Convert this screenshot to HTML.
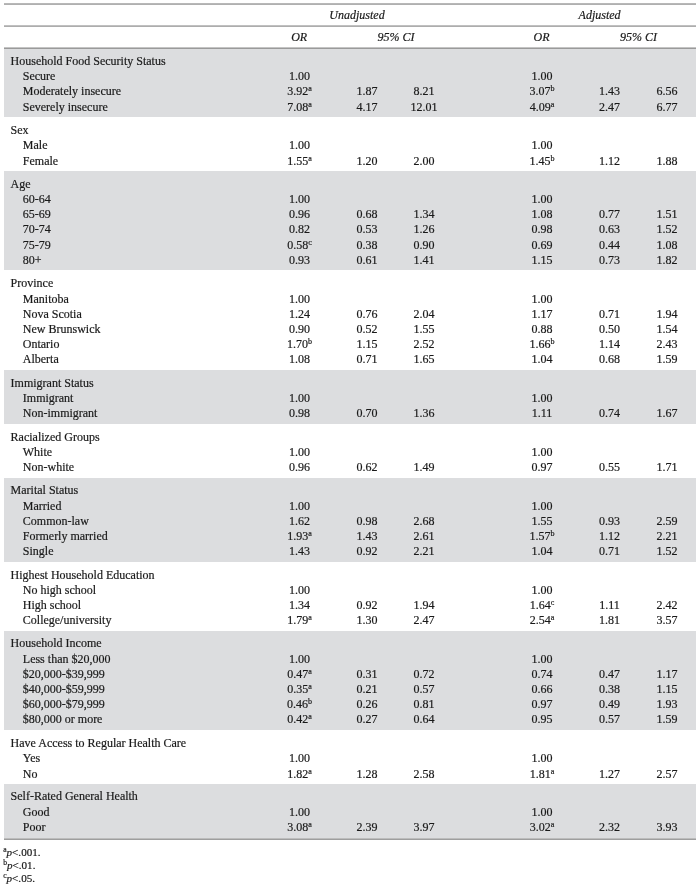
<!DOCTYPE html>
<html><head><meta charset="utf-8"><style>
html,body{margin:0;padding:0;background:#fff;}
body{width:700px;height:889px;position:relative;overflow:hidden;-webkit-text-stroke:0.2px #1a1a1a;font-family:"Liberation Serif",serif;font-size:12.00px;color:#1a1a1a;}
.t{position:absolute;white-space:nowrap;line-height:14px;height:14px;}
.c{width:120px;text-align:center;}
.i{font-style:italic;}
.g{position:absolute;left:4px;width:692px;background:#dcdddf;}
#tx{position:absolute;left:0;top:0;width:700px;height:889px;will-change:transform;}
.l{position:absolute;left:4px;width:692px;height:2px;background:#a8a8a8;}
sup{font-size:8.0px;line-height:0;vertical-align:4.00px;}
.fn{position:absolute;left:3.2px;font-size:11.1px;line-height:12px;height:12px;white-space:nowrap;}
.fn sup{font-size:7.6px;vertical-align:4.4px;}
</style></head><body>

<div class="g" style="top:47.0px;height:70.0px"></div>
<div class="g" style="top:171.0px;height:99.0px"></div>
<div class="g" style="top:370.0px;height:54.0px"></div>
<div class="g" style="top:478.0px;height:84.0px"></div>
<div class="g" style="top:631.0px;height:99.0px"></div>
<div class="g" style="top:784.0px;height:54.0px"></div>
<div class="l" style="top:3px;height:1px;background:#b8b8b8"></div>
<div class="l" style="top:4px;height:1px;background:#b0b0b0"></div>
<div class="l" style="top:25px;height:1px;background:#c0c0c0"></div>
<div class="l" style="top:26px;height:1px;background:#adadad"></div>
<div class="l" style="top:47px;height:1px;background:#c4c4c4"></div>
<div class="l" style="top:48px;height:1px;background:#9a9a9a"></div>
<div class="l" style="top:838px;height:1px;background:#bcbcbc"></div>
<div class="l" style="top:839px;height:1px;background:#9e9e9e"></div>
<div id="tx">
<div class="t c i" style="left:297.00px;top:8.20px">Unadjusted</div>
<div class="t c i" style="left:539.60px;top:8.20px">Adjusted</div>
<div class="t c i" style="left:239.20px;top:30.40px">OR</div>
<div class="t c i" style="left:336.00px;top:30.40px">95% CI</div>
<div class="t c i" style="left:481.60px;top:30.40px">OR</div>
<div class="t c i" style="left:578.60px;top:30.40px">95% CI</div>
<div class="t " style="left:10.60px;top:54.05px">Household Food Security Status</div>
<div class="t " style="left:22.80px;top:69.25px">Secure</div>
<div class="t c " style="left:239.50px;top:69.25px">1.00</div>
<div class="t c " style="left:482.00px;top:69.25px">1.00</div>
<div class="t " style="left:22.80px;top:84.45px">Moderately insecure</div>
<div class="t c " style="left:239.50px;top:84.45px">3.92<sup>a</sup></div>
<div class="t c " style="left:307.00px;top:84.45px">1.87</div>
<div class="t c " style="left:364.00px;top:84.45px">8.21</div>
<div class="t c " style="left:482.00px;top:84.45px">3.07<sup>b</sup></div>
<div class="t c " style="left:549.50px;top:84.45px">1.43</div>
<div class="t c " style="left:607.00px;top:84.45px">6.56</div>
<div class="t " style="left:22.80px;top:99.65px">Severely insecure</div>
<div class="t c " style="left:239.50px;top:99.65px">7.08<sup>a</sup></div>
<div class="t c " style="left:307.00px;top:99.65px">4.17</div>
<div class="t c " style="left:364.00px;top:99.65px">12.01</div>
<div class="t c " style="left:482.00px;top:99.65px">4.09<sup>a</sup></div>
<div class="t c " style="left:549.50px;top:99.65px">2.47</div>
<div class="t c " style="left:607.00px;top:99.65px">6.77</div>
<div class="t " style="left:10.60px;top:123.15px">Sex</div>
<div class="t " style="left:22.80px;top:138.35px">Male</div>
<div class="t c " style="left:239.50px;top:138.35px">1.00</div>
<div class="t c " style="left:482.00px;top:138.35px">1.00</div>
<div class="t " style="left:22.80px;top:153.55px">Female</div>
<div class="t c " style="left:239.50px;top:153.55px">1.55<sup>a</sup></div>
<div class="t c " style="left:307.00px;top:153.55px">1.20</div>
<div class="t c " style="left:364.00px;top:153.55px">2.00</div>
<div class="t c " style="left:482.00px;top:153.55px">1.45<sup>b</sup></div>
<div class="t c " style="left:549.50px;top:153.55px">1.12</div>
<div class="t c " style="left:607.00px;top:153.55px">1.88</div>
<div class="t " style="left:10.60px;top:176.81px">Age</div>
<div class="t " style="left:22.80px;top:192.01px">60-64</div>
<div class="t c " style="left:239.50px;top:192.01px">1.00</div>
<div class="t c " style="left:482.00px;top:192.01px">1.00</div>
<div class="t " style="left:22.80px;top:207.21px">65-69</div>
<div class="t c " style="left:239.50px;top:207.21px">0.96</div>
<div class="t c " style="left:307.00px;top:207.21px">0.68</div>
<div class="t c " style="left:364.00px;top:207.21px">1.34</div>
<div class="t c " style="left:482.00px;top:207.21px">1.08</div>
<div class="t c " style="left:549.50px;top:207.21px">0.77</div>
<div class="t c " style="left:607.00px;top:207.21px">1.51</div>
<div class="t " style="left:22.80px;top:222.41px">70-74</div>
<div class="t c " style="left:239.50px;top:222.41px">0.82</div>
<div class="t c " style="left:307.00px;top:222.41px">0.53</div>
<div class="t c " style="left:364.00px;top:222.41px">1.26</div>
<div class="t c " style="left:482.00px;top:222.41px">0.98</div>
<div class="t c " style="left:549.50px;top:222.41px">0.63</div>
<div class="t c " style="left:607.00px;top:222.41px">1.52</div>
<div class="t " style="left:22.80px;top:237.61px">75-79</div>
<div class="t c " style="left:239.50px;top:237.61px">0.58<sup>c</sup></div>
<div class="t c " style="left:307.00px;top:237.61px">0.38</div>
<div class="t c " style="left:364.00px;top:237.61px">0.90</div>
<div class="t c " style="left:482.00px;top:237.61px">0.69</div>
<div class="t c " style="left:549.50px;top:237.61px">0.44</div>
<div class="t c " style="left:607.00px;top:237.61px">1.08</div>
<div class="t " style="left:22.80px;top:252.81px">80+</div>
<div class="t c " style="left:239.50px;top:252.81px">0.93</div>
<div class="t c " style="left:307.00px;top:252.81px">0.61</div>
<div class="t c " style="left:364.00px;top:252.81px">1.41</div>
<div class="t c " style="left:482.00px;top:252.81px">1.15</div>
<div class="t c " style="left:549.50px;top:252.81px">0.73</div>
<div class="t c " style="left:607.00px;top:252.81px">1.82</div>
<div class="t " style="left:10.60px;top:276.31px">Province</div>
<div class="t " style="left:22.80px;top:291.51px">Manitoba</div>
<div class="t c " style="left:239.50px;top:291.51px">1.00</div>
<div class="t c " style="left:482.00px;top:291.51px">1.00</div>
<div class="t " style="left:22.80px;top:306.71px">Nova Scotia</div>
<div class="t c " style="left:239.50px;top:306.71px">1.24</div>
<div class="t c " style="left:307.00px;top:306.71px">0.76</div>
<div class="t c " style="left:364.00px;top:306.71px">2.04</div>
<div class="t c " style="left:482.00px;top:306.71px">1.17</div>
<div class="t c " style="left:549.50px;top:306.71px">0.71</div>
<div class="t c " style="left:607.00px;top:306.71px">1.94</div>
<div class="t " style="left:22.80px;top:321.91px">New Brunswick</div>
<div class="t c " style="left:239.50px;top:321.91px">0.90</div>
<div class="t c " style="left:307.00px;top:321.91px">0.52</div>
<div class="t c " style="left:364.00px;top:321.91px">1.55</div>
<div class="t c " style="left:482.00px;top:321.91px">0.88</div>
<div class="t c " style="left:549.50px;top:321.91px">0.50</div>
<div class="t c " style="left:607.00px;top:321.91px">1.54</div>
<div class="t " style="left:22.80px;top:337.11px">Ontario</div>
<div class="t c " style="left:239.50px;top:337.11px">1.70<sup>b</sup></div>
<div class="t c " style="left:307.00px;top:337.11px">1.15</div>
<div class="t c " style="left:364.00px;top:337.11px">2.52</div>
<div class="t c " style="left:482.00px;top:337.11px">1.66<sup>b</sup></div>
<div class="t c " style="left:549.50px;top:337.11px">1.14</div>
<div class="t c " style="left:607.00px;top:337.11px">2.43</div>
<div class="t " style="left:22.80px;top:352.31px">Alberta</div>
<div class="t c " style="left:239.50px;top:352.31px">1.08</div>
<div class="t c " style="left:307.00px;top:352.31px">0.71</div>
<div class="t c " style="left:364.00px;top:352.31px">1.65</div>
<div class="t c " style="left:482.00px;top:352.31px">1.04</div>
<div class="t c " style="left:549.50px;top:352.31px">0.68</div>
<div class="t c " style="left:607.00px;top:352.31px">1.59</div>
<div class="t " style="left:10.60px;top:375.52px">Immigrant Status</div>
<div class="t " style="left:22.80px;top:390.72px">Immigrant</div>
<div class="t c " style="left:239.50px;top:390.72px">1.00</div>
<div class="t c " style="left:482.00px;top:390.72px">1.00</div>
<div class="t " style="left:22.80px;top:405.92px">Non-immigrant</div>
<div class="t c " style="left:239.50px;top:405.92px">0.98</div>
<div class="t c " style="left:307.00px;top:405.92px">0.70</div>
<div class="t c " style="left:364.00px;top:405.92px">1.36</div>
<div class="t c " style="left:482.00px;top:405.92px">1.11</div>
<div class="t c " style="left:549.50px;top:405.92px">0.74</div>
<div class="t c " style="left:607.00px;top:405.92px">1.67</div>
<div class="t " style="left:10.60px;top:429.58px">Racialized Groups</div>
<div class="t " style="left:22.80px;top:444.78px">White</div>
<div class="t c " style="left:239.50px;top:444.78px">1.00</div>
<div class="t c " style="left:482.00px;top:444.78px">1.00</div>
<div class="t " style="left:22.80px;top:459.98px">Non-white</div>
<div class="t c " style="left:239.50px;top:459.98px">0.96</div>
<div class="t c " style="left:307.00px;top:459.98px">0.62</div>
<div class="t c " style="left:364.00px;top:459.98px">1.49</div>
<div class="t c " style="left:482.00px;top:459.98px">0.97</div>
<div class="t c " style="left:549.50px;top:459.98px">0.55</div>
<div class="t c " style="left:607.00px;top:459.98px">1.71</div>
<div class="t " style="left:10.60px;top:483.30px">Marital Status</div>
<div class="t " style="left:22.80px;top:498.50px">Married</div>
<div class="t c " style="left:239.50px;top:498.50px">1.00</div>
<div class="t c " style="left:482.00px;top:498.50px">1.00</div>
<div class="t " style="left:22.80px;top:513.70px">Common-law</div>
<div class="t c " style="left:239.50px;top:513.70px">1.62</div>
<div class="t c " style="left:307.00px;top:513.70px">0.98</div>
<div class="t c " style="left:364.00px;top:513.70px">2.68</div>
<div class="t c " style="left:482.00px;top:513.70px">1.55</div>
<div class="t c " style="left:549.50px;top:513.70px">0.93</div>
<div class="t c " style="left:607.00px;top:513.70px">2.59</div>
<div class="t " style="left:22.80px;top:528.90px">Formerly married</div>
<div class="t c " style="left:239.50px;top:528.90px">1.93<sup>a</sup></div>
<div class="t c " style="left:307.00px;top:528.90px">1.43</div>
<div class="t c " style="left:364.00px;top:528.90px">2.61</div>
<div class="t c " style="left:482.00px;top:528.90px">1.57<sup>b</sup></div>
<div class="t c " style="left:549.50px;top:528.90px">1.12</div>
<div class="t c " style="left:607.00px;top:528.90px">2.21</div>
<div class="t " style="left:22.80px;top:544.10px">Single</div>
<div class="t c " style="left:239.50px;top:544.10px">1.43</div>
<div class="t c " style="left:307.00px;top:544.10px">0.92</div>
<div class="t c " style="left:364.00px;top:544.10px">2.21</div>
<div class="t c " style="left:482.00px;top:544.10px">1.04</div>
<div class="t c " style="left:549.50px;top:544.10px">0.71</div>
<div class="t c " style="left:607.00px;top:544.10px">1.52</div>
<div class="t " style="left:10.60px;top:567.52px">Highest Household Education</div>
<div class="t " style="left:22.80px;top:582.72px">No high school</div>
<div class="t c " style="left:239.50px;top:582.72px">1.00</div>
<div class="t c " style="left:482.00px;top:582.72px">1.00</div>
<div class="t " style="left:22.80px;top:597.92px">High school</div>
<div class="t c " style="left:239.50px;top:597.92px">1.34</div>
<div class="t c " style="left:307.00px;top:597.92px">0.92</div>
<div class="t c " style="left:364.00px;top:597.92px">1.94</div>
<div class="t c " style="left:482.00px;top:597.92px">1.64<sup>c</sup></div>
<div class="t c " style="left:549.50px;top:597.92px">1.11</div>
<div class="t c " style="left:607.00px;top:597.92px">2.42</div>
<div class="t " style="left:22.80px;top:613.12px">College/university</div>
<div class="t c " style="left:239.50px;top:613.12px">1.79<sup>a</sup></div>
<div class="t c " style="left:307.00px;top:613.12px">1.30</div>
<div class="t c " style="left:364.00px;top:613.12px">2.47</div>
<div class="t c " style="left:482.00px;top:613.12px">2.54<sup>a</sup></div>
<div class="t c " style="left:549.50px;top:613.12px">1.81</div>
<div class="t c " style="left:607.00px;top:613.12px">3.57</div>
<div class="t " style="left:10.60px;top:636.49px">Household Income</div>
<div class="t " style="left:22.80px;top:651.69px">Less than $20,000</div>
<div class="t c " style="left:239.50px;top:651.69px">1.00</div>
<div class="t c " style="left:482.00px;top:651.69px">1.00</div>
<div class="t " style="left:22.80px;top:666.89px">$20,000-$39,999</div>
<div class="t c " style="left:239.50px;top:666.89px">0.47<sup>a</sup></div>
<div class="t c " style="left:307.00px;top:666.89px">0.31</div>
<div class="t c " style="left:364.00px;top:666.89px">0.72</div>
<div class="t c " style="left:482.00px;top:666.89px">0.74</div>
<div class="t c " style="left:549.50px;top:666.89px">0.47</div>
<div class="t c " style="left:607.00px;top:666.89px">1.17</div>
<div class="t " style="left:22.80px;top:682.09px">$40,000-$59,999</div>
<div class="t c " style="left:239.50px;top:682.09px">0.35<sup>a</sup></div>
<div class="t c " style="left:307.00px;top:682.09px">0.21</div>
<div class="t c " style="left:364.00px;top:682.09px">0.57</div>
<div class="t c " style="left:482.00px;top:682.09px">0.66</div>
<div class="t c " style="left:549.50px;top:682.09px">0.38</div>
<div class="t c " style="left:607.00px;top:682.09px">1.15</div>
<div class="t " style="left:22.80px;top:697.29px">$60,000-$79,999</div>
<div class="t c " style="left:239.50px;top:697.29px">0.46<sup>b</sup></div>
<div class="t c " style="left:307.00px;top:697.29px">0.26</div>
<div class="t c " style="left:364.00px;top:697.29px">0.81</div>
<div class="t c " style="left:482.00px;top:697.29px">0.97</div>
<div class="t c " style="left:549.50px;top:697.29px">0.49</div>
<div class="t c " style="left:607.00px;top:697.29px">1.93</div>
<div class="t " style="left:22.80px;top:712.49px">$80,000 or more</div>
<div class="t c " style="left:239.50px;top:712.49px">0.42<sup>a</sup></div>
<div class="t c " style="left:307.00px;top:712.49px">0.27</div>
<div class="t c " style="left:364.00px;top:712.49px">0.64</div>
<div class="t c " style="left:482.00px;top:712.49px">0.95</div>
<div class="t c " style="left:549.50px;top:712.49px">0.57</div>
<div class="t c " style="left:607.00px;top:712.49px">1.59</div>
<div class="t " style="left:10.60px;top:736.12px">Have Access to Regular Health Care</div>
<div class="t " style="left:22.80px;top:751.32px">Yes</div>
<div class="t c " style="left:239.50px;top:751.32px">1.00</div>
<div class="t c " style="left:482.00px;top:751.32px">1.00</div>
<div class="t " style="left:22.80px;top:766.52px">No</div>
<div class="t c " style="left:239.50px;top:766.52px">1.82<sup>a</sup></div>
<div class="t c " style="left:307.00px;top:766.52px">1.28</div>
<div class="t c " style="left:364.00px;top:766.52px">2.58</div>
<div class="t c " style="left:482.00px;top:766.52px">1.81<sup>a</sup></div>
<div class="t c " style="left:549.50px;top:766.52px">1.27</div>
<div class="t c " style="left:607.00px;top:766.52px">2.57</div>
<div class="t " style="left:10.60px;top:789.45px">Self-Rated General Health</div>
<div class="t " style="left:22.80px;top:804.65px">Good</div>
<div class="t c " style="left:239.50px;top:804.65px">1.00</div>
<div class="t c " style="left:482.00px;top:804.65px">1.00</div>
<div class="t " style="left:22.80px;top:819.85px">Poor</div>
<div class="t c " style="left:239.50px;top:819.85px">3.08<sup>a</sup></div>
<div class="t c " style="left:307.00px;top:819.85px">2.39</div>
<div class="t c " style="left:364.00px;top:819.85px">3.97</div>
<div class="t c " style="left:482.00px;top:819.85px">3.02<sup>a</sup></div>
<div class="t c " style="left:549.50px;top:819.85px">2.32</div>
<div class="t c " style="left:607.00px;top:819.85px">3.93</div>
<div class="fn" style="top:845.60px"><sup>a</sup><i>p</i>&lt;.001.</div>
<div class="fn" style="top:859.00px"><sup>b</sup><i>p</i>&lt;.01.</div>
<div class="fn" style="top:872.40px"><sup>c</sup><i>p</i>&lt;.05.</div>
</div>
</body></html>
